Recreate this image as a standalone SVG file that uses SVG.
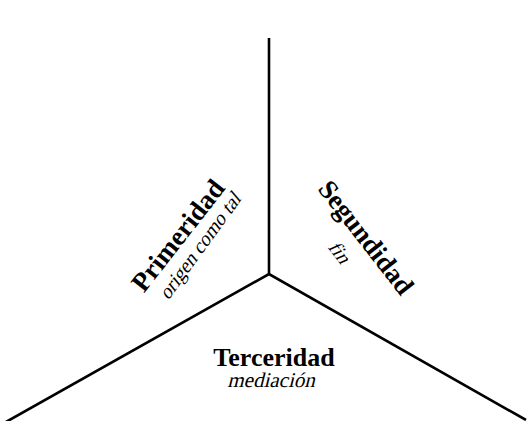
<svg xmlns="http://www.w3.org/2000/svg" width="528" height="421" viewBox="0 0 528 421">
<style>
.ln{stroke:#000;stroke-width:2.6;fill:none;stroke-linecap:butt}
.t{font-family:"Liberation Serif","DejaVu Serif",serif;font-weight:bold;fill:#000}
.s{font-family:"Liberation Serif","DejaVu Serif",serif;font-style:normal;fill:#000}
</style>
<rect width="528" height="421" fill="#fff"/>
<g id="connectors">
<line class="ln" x1="269" y1="38" x2="269" y2="274"/>
<polyline class="ln" points="6,422 269,274 526,420"/>
</g>
<g id="primeridad">
<text class="t" font-size="27" text-anchor="middle" transform="translate(185,241) rotate(-52)">Primeridad</text>
<text class="s" font-size="20" text-anchor="middle" transform="translate(205,250) rotate(-54) skewX(-14)">origen como tal</text>
</g>
<g id="segundidad">
<text class="t" font-size="27" text-anchor="middle" transform="translate(359,243) rotate(52)">Segundidad</text>
<text class="s" font-size="20" text-anchor="middle" transform="translate(334,256) rotate(52) skewX(-14)">fin</text>
</g>
<g id="terceridad">
<text class="t" font-size="26" text-anchor="middle" x="274" y="366">Terceridad</text>
<text class="s" font-size="21" text-anchor="middle" transform="translate(271,387) skewX(-14)">mediación</text>
</g>
</svg>
